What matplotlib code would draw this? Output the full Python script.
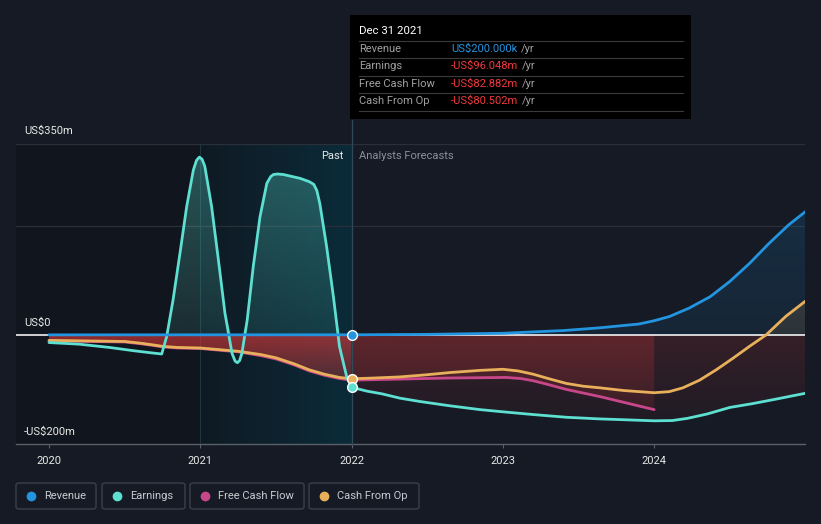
import numpy as np
import matplotlib
matplotlib.use("Agg")
import matplotlib.pyplot as plt
from matplotlib.colors import to_rgb
from matplotlib.patches import Rectangle, FancyBboxPatch
from matplotlib.lines import Line2D

plt.rcParams['font.family'] = ['Roboto', 'DejaVu Sans']

# ---- data (US$ m, x in years) ----
rev_x = [2020.0, 2022.0, 2022.5, 2023.0, 2023.4, 2023.64, 2023.9, 2024.0, 2024.1, 2024.23,
         2024.37, 2024.5, 2024.63, 2024.76, 2024.89, 2025.0]
rev_y = [0.1, 0.2, 1, 3, 8, 13, 20, 26, 33.6, 49,
         70, 98, 131, 168, 202, 226]

earn_x = [2020.0, 2020.2, 2020.4, 2020.56, 2020.68, 2020.745, 2020.778, 2020.82, 2020.866,
          2020.91, 2020.954, 2020.975, 2020.994, 2021.012, 2021.03, 2021.075, 2021.12,
          2021.163, 2021.21, 2021.23, 2021.245, 2021.26, 2021.275, 2021.31, 2021.35, 2021.395,
          2021.44, 2021.465, 2021.483, 2021.51, 2021.55, 2021.66, 2021.72, 2021.75, 2021.77,
          2021.79, 2021.835, 2021.88, 2021.92, 2021.967, 2022.0,
          2022.1, 2022.2, 2022.32, 2022.45, 2022.65, 2022.85, 2023.0, 2023.2, 2023.42,
          2023.64, 2023.85, 2024.0, 2024.12, 2024.22, 2024.35, 2024.5, 2024.65, 2024.8, 2025.0]
earn_y = [-14, -17, -23, -29, -33, -35, -3, 64, 150,
          235, 302, 320, 326, 322, 309, 235, 137,
          40, -34, -48, -51, -47, -34, 27, 125, 217,
          278, 290, 294, 295, 294, 287, 281, 276, 265,
          241, 162, 70, -21, -76, -96,
          -103, -108, -116, -122, -130, -137, -141, -146, -151,
          -154, -156, -157.5, -157, -153, -145, -133, -126, -118, -107]

cfo_x = [2020.0, 2020.25, 2020.5, 2020.6, 2020.68, 2020.75, 2020.85, 2021.0, 2021.25, 2021.4,
         2021.5, 2021.62, 2021.72, 2021.82, 2021.92, 2022.0,
         2022.15, 2022.32, 2022.5, 2022.65, 2022.85, 2023.0, 2023.1, 2023.2, 2023.3, 2023.42,
         2023.53, 2023.64, 2023.8, 2024.0, 2024.1, 2024.19, 2024.3, 2024.41, 2024.52,
         2024.63, 2024.74, 2024.87, 2025.0]
cfo_y = [-10, -11, -12, -15, -18, -21, -23, -24, -30, -36,
         -42, -53, -64, -72, -78, -80.5,
         -79, -77, -73, -69, -65, -63, -66, -72, -80, -89,
         -94, -97, -102, -106, -104, -97, -83, -64, -43,
         -21, 0, 34, 62]

fcf_x = [2020.0, 2020.25, 2020.5, 2020.6, 2020.68, 2020.75, 2020.85, 2021.0, 2021.25, 2021.4,
         2021.5, 2021.62, 2021.72, 2021.82, 2021.92, 2022.0,
         2022.32, 2022.65, 2023.02, 2023.12, 2023.2, 2023.3, 2023.42, 2023.64, 2023.82, 2024.0]
fcf_y = [-11, -12, -13, -16, -19, -22, -24, -25, -31, -38,
         -44, -55, -66, -74, -80, -82.9,
         -81, -79, -78, -80, -84, -91, -100, -113, -125, -137]

years = [2020, 2021, 2022, 2023, 2024]

C_REV = '#2394df'
C_EARN = '#5ddfd1'
C_FCF = '#c8478b'
C_CFO = '#e8b05a'
C_RED = '#e63b3b'
BG = '#151a24'

W, H = 821, 524
fig = plt.figure(figsize=(W / 100, H / 100), dpi=100, facecolor=BG)


def fx(px):
    return px / W


def fy(py):
    return 1 - py / H


ax = fig.add_axes([fx(16), fy(444), (805 - 16) / W, 300 / H])
ax.set_facecolor(BG)
X0, X1 = 2019.782, 2024.997
Y0, Y1 = -200, 350


def grad_fill(x, y, color, a_near, a_far, z):
    x = np.asarray(x, float)
    y = np.asarray(y, float)
    poly = ax.fill_between(x, y, 0, facecolor='none', edgecolor='none')
    lo, hi = min(y.min(), 0), max(y.max(), 0)
    n = 128
    img = np.zeros((n, 1, 4))
    img[:, :, :3] = to_rgb(color)
    t = np.linspace(0, 1, n)
    if hi > 0 and lo >= 0:
        alpha = a_near + (a_far - a_near) * t          # bottom (0) -> top
    else:
        alpha = a_far + (a_near - a_far) * t           # bottom (far) -> top (0)
    img[:, 0, 3] = alpha
    im = ax.imshow(img, aspect='auto', origin='lower', extent=[x.min(), x.max(), lo, hi],
                   zorder=z, interpolation='bilinear')
    im.set_clip_path(poly.get_paths()[0], transform=ax.transData)


# background regions
ax.axvspan(X0, 2021, color='#11151d', zorder=0, lw=0)
g = np.zeros((1, 256, 3))
c_l, c_r = np.array([15, 26, 35]) / 255, np.array([11, 43, 57]) / 255
for i in range(3):
    g[0, :, i] = np.linspace(c_l[i], c_r[i], 256)
ax.imshow(g, aspect='auto', extent=[2021, 2022, Y0, Y1], zorder=0.1)

# grid
for v in [350, 200]:
    ax.axhline(v, color='#2a3039', lw=0.9, zorder=0.5)
ax.axvline(2021, color='#1d3441', lw=0.8, zorder=0.6)

# fills
ex = np.array(earn_x)
ey = np.array(earn_y)
past = ex <= 2022.0
fut = ex >= 2022.0
grad_fill(ex[past], np.clip(ey[past], 0, None), C_EARN, 0.12, 0.32, 1)
grad_fill(ex[fut], ey[fut], C_RED, 0.16, 0.05, 1)

cx = np.array(cfo_x)
cy = np.array(cfo_y)
grad_fill(cx[cx <= 2022], cy[cx <= 2022], C_RED, 0.6, 0.3, 1.2)
grad_fill(cx[cx >= 2024.6], np.clip(cy[cx >= 2024.6], 0, None), C_CFO, 0.1, 0.14, 1.3)

fx_ = np.array(fcf_x)
fy_ = np.array(fcf_y)
grad_fill(fx_[fx_ >= 2022], fy_[fx_ >= 2022], C_RED, 0.24, 0.12, 1.2)

grad_fill(rev_x, rev_y, C_REV, 0.1, 0.16, 1.1)

# zero line
ax.axhline(0, color='#f2f2f2', lw=1.2, zorder=2)

# lines
lw = 2.0
ax.plot(fcf_x, fcf_y, color=C_FCF, lw=lw, zorder=3, solid_capstyle='round')
ax.plot(cfo_x, cfo_y, color=C_CFO, lw=lw, zorder=3.1, solid_capstyle='round')
ax.plot(earn_x, earn_y, color=C_EARN, lw=lw, zorder=3.2, solid_capstyle='round')
ax.plot(rev_x, rev_y, color=C_REV, lw=lw, zorder=3.3, solid_capstyle='round')

# markers at the tooltip date
for val, c in [(rev_y[1], C_REV), (cfo_y[cfo_x.index(2022.0)], C_CFO),
               (earn_y[earn_x.index(2022.0)], C_EARN)]:
    ax.plot([2022.0], [val], 'o', ms=7, color=c, mec='white', mew=1.0, zorder=5)

# vertical line at the hovered date
ax.plot([2022.0, 2022.0], [Y0, Y1 + 24 / 300 * 550], color='#2f4a58', lw=0.9,
        zorder=4, clip_on=False)

ax.set_xlim(X0, X1)
ax.set_ylim(Y0, Y1)
ax.set_yticks([])
ax.set_xticks(years)
ax.set_xticklabels([str(y) for y in years], color='#e8e8e8', fontsize=8)
ax.tick_params(axis='x', length=3, width=0.8, color='#5a6068', pad=6)
for s in ['top', 'left', 'right']:
    ax.spines[s].set_visible(False)
ax.spines['bottom'].set_color('#5a6068')
ax.spines['bottom'].set_linewidth(1.0)

# y labels
for txt, py in [('US$350m', 131), ('US$0', 323), ('-US$200m', 432)]:
    fig.text(fx(24), fy(py), txt, color='#e8e8e8', fontsize=8, va='center', ha='left')

fig.text(fx(343), fy(156), 'Past', color='#e8e8e8', fontsize=8, va='center', ha='right')
fig.text(fx(359), fy(156), 'Analysts Forecasts', color='#8a9099', fontsize=8,
         va='center', ha='left')

# tooltip
fig.add_artist(Rectangle((fx(350), fy(119)), (691 - 350) / W, (119 - 15) / H,
                         transform=fig.transFigure, facecolor='black', edgecolor='none'))
for py in [41, 58, 76, 93, 111]:
    fig.add_artist(Line2D([fx(359), fx(683)], [fy(py), fy(py)], transform=fig.transFigure,
                          color='#3a3a3a', lw=0.8))
fig.text(fx(359), fy(31), 'Dec 31 2021', color='white', fontsize=8.2, va='center')
rows = [('Revenue', 'US$200.000k', C_REV, 49),
        ('Earnings', '-US$96.048m', '#f0383c', 66),
        ('Free Cash Flow', '-US$82.882m', '#f0383c', 84),
        ('Cash From Op', '-US$80.502m', '#f0383c', 101)]
renderer = fig.canvas.get_renderer()
for name, val, col, py in rows:
    fig.text(fx(359), fy(py), name, color='#a0a0a0', fontsize=8, va='center')
    t = fig.text(fx(451), fy(py), val, color=col, fontsize=8, va='center')
    bb = t.get_window_extent(renderer)
    fig.text(bb.x1 / W + 4 / W, fy(py), '/yr', color='#a0a0a0', fontsize=8, va='center')

# legend
leg = [('Revenue', C_REV, 16, 96), ('Earnings', C_EARN, 102, 185),
       ('Free Cash Flow', C_FCF, 190, 304), ('Cash From Op', C_CFO, 309, 419)]
for name, col, x0, x1 in leg:
    fig.add_artist(FancyBboxPatch((fx(x0), fy(509)), (x1 - x0) / W, 26 / H,
                                  boxstyle='round,pad=0,rounding_size=0.004',
                                  transform=fig.transFigure, facecolor='none',
                                  edgecolor='#3b4049', lw=1.0))
    fig.add_artist(Line2D([fx(x0 + 15)], [fy(496)], marker='o', ms=6, color=col,
                          transform=fig.transFigure, lw=0))
    fig.text(fx(x0 + 28), fy(496), name, color='#c8ccd2', fontsize=8, va='center')

fig.savefig('out.png', dpi=100, facecolor=BG)
